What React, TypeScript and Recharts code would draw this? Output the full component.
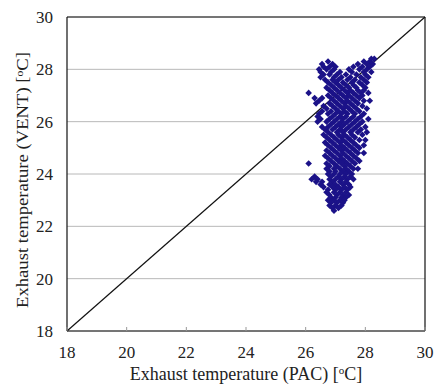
import { ScatterChart, Scatter, XAxis, YAxis, CartesianGrid, ReferenceLine, Label } from 'recharts';

// axis ticks (°C)
const axisTicks = [18, 20, 22, 24, 26, 28, 30];

// VENT exhaust temperature, one row per 0.1 °C
const ventRows = [
  28.4, 28.3, 28.2, 28.1, 28.0, 27.9, 27.8, 27.7, 27.6, 27.5,
  27.4, 27.3, 27.2, 27.1, 27.0, 26.9, 26.8, 26.7, 26.6, 26.5,
  26.4, 26.3, 26.2, 26.1, 26.0, 25.9, 25.8, 25.7, 25.6, 25.5,
  25.4, 25.3, 25.2, 25.1, 25.0, 24.9, 24.8, 24.7, 24.6, 24.5,
  24.4, 24.3, 24.2, 24.1, 24.0, 23.9, 23.8, 23.7, 23.6, 23.5,
  23.4, 23.3, 23.2, 23.1, 23.0, 22.9, 22.8, 22.7, 22.6,
];

const pacByRow = [
  [28.2, 28.3],
  [26.75, 27.95, 28.15],
  [26.55, 26.9, 27.75, 28.05, 28.25],
  [26.6, 26.8, 27.0, 27.6, 27.9, 28.15],
  [26.45, 26.7, 26.95, 27.45, 27.8, 28.05],
  [26.5, 26.85, 27.15, 27.55, 27.95, 28.2],
  [26.6, 26.8, 27.05, 27.35, 27.7, 28.0],
  [26.5, 26.95, 27.2, 27.5, 27.85, 28.1],
  [26.65, 26.9, 27.1, 27.4, 27.65, 27.95],
  [26.75, 27.0, 27.25, 27.55, 27.8, 28.05],
  [26.85, 27.1, 27.35, 27.6, 27.9],
  [26.7, 26.95, 27.2, 27.45, 27.7, 28.0],
  [26.8, 27.05, 27.3, 27.5, 27.75, 27.95],
  [26.1, 26.9, 27.15, 27.4, 27.6, 27.85, 28.1],
  [26.75, 27.0, 27.25, 27.45, 27.7, 27.9],
  [26.3, 26.55, 26.85, 27.1, 27.35, 27.55, 27.8],
  [26.45, 26.95, 27.2, 27.4, 27.65, 27.95, 28.15],
  [26.35, 26.8, 27.05, 27.3, 27.5, 27.75],
  [26.6, 26.9, 27.15, 27.35, 27.6, 27.9],
  [26.7, 27.0, 27.25, 27.45, 27.7, 28.05],
  [26.55, 26.85, 27.1, 27.3, 27.55, 27.8],
  [26.45, 26.75, 27.0, 27.2, 27.4, 27.65, 27.95],
  [26.4, 26.9, 27.15, 27.35, 27.6, 27.85],
  [26.5, 26.8, 27.05, 27.25, 27.5, 27.75, 28.1],
  [26.4, 26.7, 26.95, 27.2, 27.4, 27.65, 27.9],
  [26.85, 27.1, 27.3, 27.55, 27.8],
  [26.55, 26.75, 27.0, 27.2, 27.45, 27.7, 28.0],
  [26.65, 26.9, 27.15, 27.35, 27.6, 27.85],
  [26.75, 27.05, 27.25, 27.5, 27.75, 28.05],
  [26.6, 26.85, 27.1, 27.3, 27.55, 27.9],
  [26.7, 26.95, 27.2, 27.4, 27.65],
  [26.8, 27.05, 27.25, 27.5, 27.8, 28.0],
  [26.65, 26.9, 27.15, 27.35, 27.6],
  [26.75, 27.0, 27.2, 27.45, 27.7, 27.95],
  [26.85, 27.1, 27.3, 27.55, 27.8],
  [26.7, 26.95, 27.2, 27.4, 27.65],
  [26.8, 27.05, 27.25, 27.5, 27.75, 27.95],
  [26.65, 26.9, 27.15, 27.35, 27.6],
  [26.75, 27.0, 27.2, 27.45, 27.7],
  [26.85, 27.1, 27.3, 27.55, 27.8],
  [26.1, 26.7, 26.95, 27.2, 27.4, 27.65],
  [26.8, 27.05, 27.3, 27.5],
  [26.7, 26.95, 27.15, 27.35, 27.6, 27.75],
  [26.8, 27.0, 27.25, 27.45],
  [26.75, 26.95, 27.15, 27.35, 27.55],
  [26.3, 26.85, 27.1, 27.3, 27.5],
  [26.2, 26.4, 26.8, 27.0, 27.2, 27.4, 27.6],
  [26.35, 26.55, 26.9, 27.15, 27.35],
  [26.5, 26.8, 27.0, 27.25, 27.45],
  [26.6, 26.9, 27.1, 27.3, 27.5],
  [26.75, 27.0, 27.2, 27.4],
  [26.7, 26.95, 27.15, 27.35],
  [26.8, 27.05, 27.25, 27.45],
  [26.85, 27.0, 27.2, 27.35],
  [26.75, 26.95, 27.15, 27.3],
  [26.85, 27.05, 27.25],
  [26.8, 27.0, 27.2],
  [26.9, 27.1],
  [26.95],
];

const points = ventRows.flatMap((vent, i) => pacByRow[i].map((pac) => ({ pac, vent })));

const FONT = '"Liberation Serif", "Times New Roman", serif';

const Diamond = (props: any) => {
  const { cx, cy } = props;
  const r = 3.3;
  return (
    <polygon
      points={`${cx},${cy - r} ${cx + r},${cy} ${cx},${cy + r} ${cx - r},${cy}`}
      fill="#1b1288"
    />
  );
};

const XTick = ({ x, y, payload }: any) => (
  <g>
    <line x1={x} x2={x} y1={y - 15} y2={y - 19} stroke="#999" />
    <text x={x} y={y} dy="0.71em" textAnchor="middle" fill="#222" fontSize={17} fontFamily={FONT}>
      {payload.value}
    </text>
  </g>
);

const XTitle = () => (
  <text x={246} y={380} textAnchor="middle" fill="#222" fontSize={18} fontFamily={FONT}>
    Exhaust temperature (PAC) [<tspan dy={-6} fontSize={11}>o</tspan><tspan dy={6}>C]</tspan>
  </text>
);

const YTitle = () => (
  <text
    x={0}
    y={0}
    transform="translate(28, 180) rotate(-90)"
    textAnchor="middle"
    fill="#222"
    fontSize={16}
    fontFamily={FONT}
    textLength={256}
    lengthAdjust="spacingAndGlyphs"
  >
    Exhaust temperature (VENT) [<tspan dy={-5} fontSize={10}>o</tspan><tspan dy={5}>C]</tspan>
  </text>
);

export default function App() {
  return (
    <div style={{ position: 'absolute', left: 0, top: 0, width: 439, height: 389, background: '#fff' }}>
      <ScatterChart width={439} height={389} margin={{ top: 17, right: 14, left: 0, bottom: 0 }}>
        <CartesianGrid horizontal vertical={false} stroke="#b8b8b8" />
        <XAxis
          type="number"
          dataKey="pac"
          domain={[18, 30]}
          ticks={axisTicks}
          height={58}
          axisLine={{ stroke: '#111', strokeWidth: 1.2 }}
          tickLine={false}
          tickSize={0}
          tickMargin={15}
          tick={<XTick />}
          interval={0}
        >
          <Label content={<XTitle />} />
        </XAxis>
        <YAxis
          type="number"
          dataKey="vent"
          domain={[18, 30]}
          ticks={axisTicks}
          width={67}
          axisLine={{ stroke: '#111', strokeWidth: 1.2 }}
          tickLine={false}
          tickSize={0}
          tickMargin={14}
          tick={{ fill: '#222', fontSize: 17, fontFamily: FONT }}
          interval={0}
        >
          <Label content={<YTitle />} />
        </YAxis>
        <ReferenceLine y={30} stroke="#111" strokeWidth={1.2} />
        <ReferenceLine x={30} stroke="#111" strokeWidth={1.2} />
        <ReferenceLine
          segment={[{ x: 18, y: 18 }, { x: 30, y: 30 }]}
          stroke="#111"
          strokeWidth={1.2}
        />
        <Scatter data={points} shape={<Diamond />} isAnimationActive={false} />
      </ScatterChart>
    </div>
  );
}
